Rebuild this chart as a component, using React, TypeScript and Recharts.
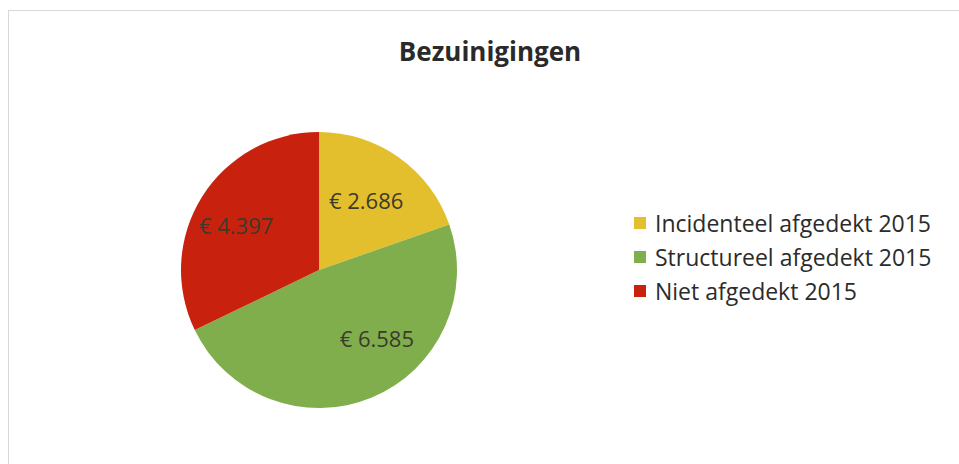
import { PieChart, Pie, Cell, Legend } from 'recharts';

const categories = ['Incidenteel afgedekt 2015', 'Structureel afgedekt 2015', 'Niet afgedekt 2015'];
const values = [2686, 6585, 4397];
const colors = ['#e3bf2e', '#80ae4c', '#c8220f'];

const data = categories.map((name, i) => ({ name, value: values[i], color: colors[i] }));

const RADIAN = Math.PI / 180;
// small per-slice nudges so the labels sit where Excel put them
const labelNudge = [[-4, 2], [24, -14], [-8, 2]];

const formatEuro = (v: number) => '€ ' + v.toLocaleString('nl-NL');

const renderLabel = ({ cx, cy, midAngle, outerRadius, value, index }: any) => {
  const r = outerRadius * 0.64;
  const x = cx + r * Math.cos(-midAngle * RADIAN) + labelNudge[index][0];
  const y = cy + r * Math.sin(-midAngle * RADIAN) + labelNudge[index][1];
  return (
    <text x={x} y={y} fill="#3b3b2c" fontSize={22} fontFamily="Open Sans" textAnchor="middle" dominantBaseline="central">
      {formatEuro(value)}
    </text>
  );
};

const renderLegend = () => (
  <div style={{ fontFamily: 'Open Sans', fontSize: 23, color: '#2b2b2b' }}>
    {data.map((d) => (
      <div key={d.name} style={{ display: 'flex', alignItems: 'center', height: 34 }}>
        <div style={{ width: 12, height: 12, background: d.color, marginRight: 9 }} />
        <span>{d.name}</span>
      </div>
    ))}
  </div>
);

export default function App() {
  return (
    <div style={{ position: 'absolute', top: 0, left: 0, width: 959, height: 464, background: '#fff' }}>
      <div style={{ position: 'absolute', left: 8, top: 10, right: 0, bottom: 0, borderLeft: '1px solid #d8d8d8', borderTop: '1px solid #d8d8d8' }} />
      <div style={{ position: 'absolute', top: 33, left: 0, width: 980, textAlign: 'center', fontFamily: 'Open Sans', fontWeight: 700, fontSize: 26, color: '#2a2a2a' }}>
        Bezuinigingen
      </div>
      <PieChart width={959} height={464} margin={{ top: 0, right: 0, bottom: 0, left: 0 }} style={{ position: 'absolute', top: 0, left: 0 }}>
        <Pie
          data={data}
          dataKey="value"
          nameKey="name"
          cx={319}
          cy={270}
          outerRadius={138}
          startAngle={90}
          endAngle={-270}
          stroke="none"
          label={renderLabel}
          labelLine={false}
          isAnimationActive={false}
        >
          {data.map((d) => (
            <Cell key={d.name} fill={d.color} />
          ))}
        </Pie>
        <Legend
          layout="vertical"
          align="right"
          verticalAlign="top"
          content={renderLegend}
          wrapperStyle={{ left: 634, top: 206, width: 325 }}
        />
      </PieChart>
    </div>
  );
}
